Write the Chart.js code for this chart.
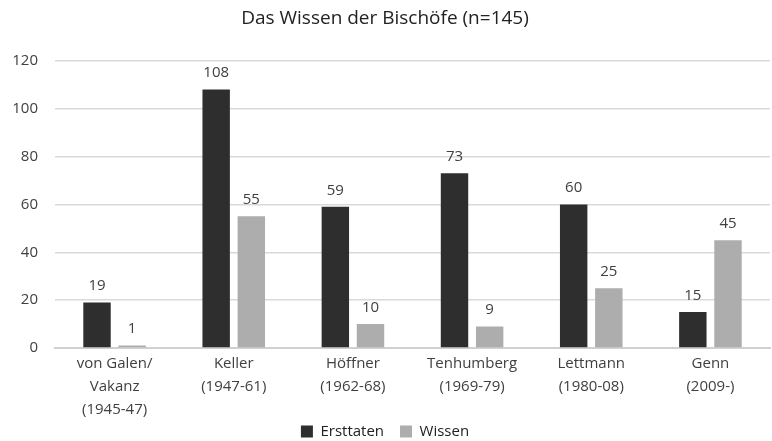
<!DOCTYPE html>
<html lang="de">
<head>
<meta charset="UTF-8">
<title>Das Wissen der Bischöfe</title>
<script src="https://cdn.jsdelivr.net/npm/chart.js"></script>
<style>
  html, body { margin: 0; padding: 0; background: #fff; }
  #wrap { width: 772px; height: 441px; }
</style>
</head>
<body>
<div id="wrap"><canvas id="chart"></canvas></div>
<script>
const bischoefe = [
  ["von Galen/", "Vakanz", "(1945-47)"],
  ["Keller", "(1947-61)"],
  ["Höffner", "(1962-68)"],
  ["Tenhumberg", "(1969-79)"],
  ["Lettmann", "(1980-08)"],
  ["Genn", "(2009-)"]
];
const ersttaten = [19, 108, 59, 73, 60, 15];
const wissen = [1, 55, 10, 9, 25, 45];

// Zahlen über den Balken
const valueLabels = {
  id: "valueLabels",
  afterDatasetsDraw(chart) {
    const ctx = chart.ctx;
    ctx.save();
    ctx.font = "15px 'Open Sans', sans-serif";
    ctx.fillStyle = "#404040";
    ctx.textAlign = "center";
    ctx.textBaseline = "bottom";
    chart.data.datasets.forEach((ds, i) => {
      chart.getDatasetMeta(i).data.forEach((bar, j) => {
        ctx.fillText(ds.data[j], bar.x, bar.y - 9);
      });
    });
    ctx.restore();
  }
};

// Legende nach oben erweitern, damit sie dichter an den Achsenbeschriftungen sitzt
const legendShift = {
  id: "legendShift",
  afterLayout(chart) {
    if (chart.legend) {
      chart.legend.top -= 12;
      chart.legend.height += 12;
    }
  }
};

new Chart(document.getElementById("chart"), {
  type: "bar",
  data: {
    labels: bischoefe,
    datasets: [
      { label: "Ersttaten", data: ersttaten, backgroundColor: "#2e2e2e",
        categoryPercentage: 0.59, barPercentage: 0.78 },
      { label: "Wissen", data: wissen, backgroundColor: "#adadad",
        categoryPercentage: 0.59, barPercentage: 0.78 }
    ]
  },
  options: {
    responsive: true,
    maintainAspectRatio: false,
    animation: false,
    layout: { padding: { top: 7, right: 2, left: 0, bottom: 0 } },
    plugins: {
      title: {
        display: true,
        text: "Das Wissen der Bischöfe (n=145)",
        color: "#222",
        font: { family: "'Open Sans', sans-serif", size: 19, weight: "normal" },
        padding: { top: 0, bottom: 31 }
      },
      legend: {
        position: "bottom",
        maxHeight: 21,
        labels: {
          color: "#222",
          font: { family: "'Open Sans', sans-serif", size: 15 },
          boxWidth: 12, boxHeight: 12,
          padding: 16
        }
      },
      tooltip: { enabled: false }
    },
    scales: {
      x: {
        afterFit(scale) { scale.height = 72; },
        grid: { display: false, drawTicks: false },
        border: { color: "#d0d0d0", width: 2 },
        ticks: {
          color: "#404040",
          padding: 4,
          font: { family: "'Open Sans', sans-serif", size: 15, lineHeight: 1.53 },
          maxRotation: 0,
          autoSkip: false
        }
      },
      y: {
        min: 0, max: 120,
        afterFit(scale) { scale.width = 55; },
        grid: { color: "#d9d9d9", lineWidth: 1.5, drawTicks: false },
        border: { display: false },
        ticks: {
          stepSize: 20,
          padding: 17,
          color: "#404040",
          font: { family: "'Open Sans', sans-serif", size: 15 }
        }
      }
    }
  },
  plugins: [valueLabels, legendShift]
});
</script>
</body>
</html>
